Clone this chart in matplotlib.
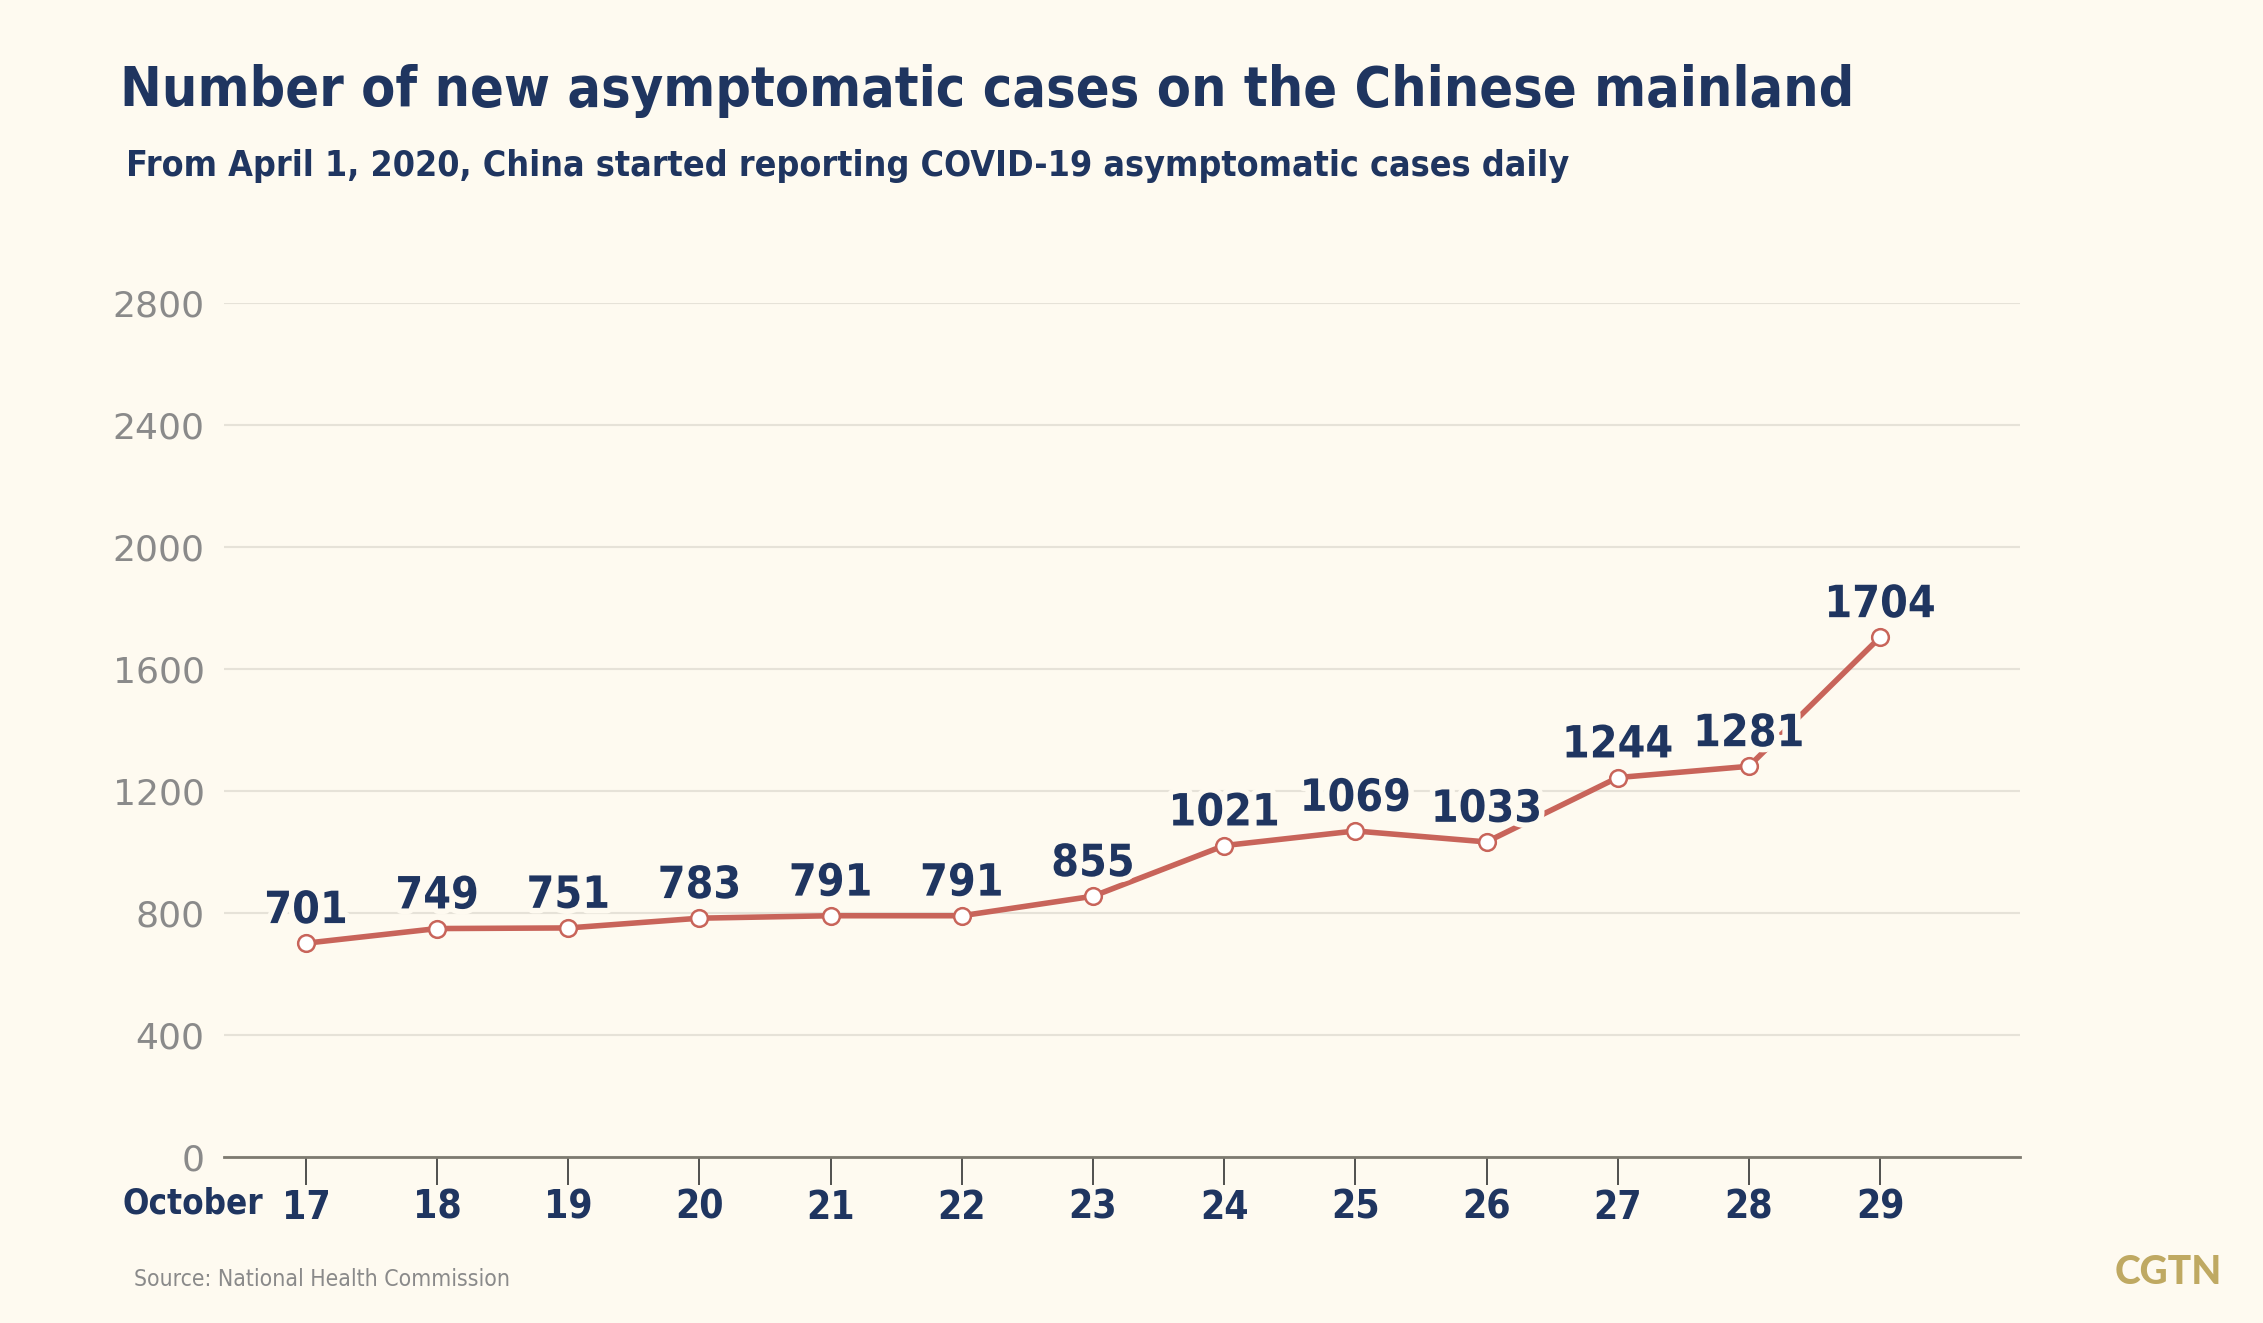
import matplotlib.pyplot as plt
import matplotlib.patheffects as pe

# DATA ------------------------------------------------------------------------
days = [17, 18, 19, 20, 21, 22, 23, 24, 25, 26, 27, 28, 29]
cases = [701, 749, 751, 783, 791, 791, 855, 1021, 1069, 1033, 1244, 1281, 1704]
yticks = [0, 400, 800, 1200, 1600, 2000, 2400, 2800]

title = "Number of new asymptomatic cases on the Chinese mainland"
subtitle = "From April 1, 2020, China started reporting COVID-19 asymptomatic cases daily"
source = "Source: National Health Commission"

BG = '#fefaf0'
NAVY = '#1f3560'
RED = '#c8645a'
GREY = '#8a8a8a'
GOLD = '#bfa962'
COND = dict(family='DejaVu Sans', stretch='condensed')

# FIGURE ----------------------------------------------------------------------
fig = plt.figure(figsize=(22.63, 13.23), dpi=100, facecolor=BG)
ax = fig.add_axes([224/2263, 1-1157/1323, (2020-224)/2263, (1157-303)/1323])
ax.set_facecolor(BG)

ax.plot(days, cases, color=RED, lw=4, marker='o', ms=12,
        mfc='white', mec=RED, mew=1.8, zorder=3)

for d, c in zip(days, cases):
    ax.annotate(str(c), (d, c), xytext=(0, 8), textcoords='offset points',
                ha='center', va='bottom', fontsize=32, fontweight='bold',
                color=NAVY, zorder=4, **COND,
                path_effects=[pe.withStroke(linewidth=8, foreground=BG)])

ax.set_xlim(16.375, 30.067)
ax.set_ylim(0, 2800)
ax.set_yticks(yticks)
ax.set_yticklabels([str(v) for v in yticks], color=GREY, fontsize=26)
ax.set_xticks(days)
ax.set_xticklabels([str(d) for d in days], color=NAVY, fontsize=28,
                   fontweight='bold', **COND)
ax.tick_params(axis='y', length=0, pad=14)
ax.tick_params(axis='x', length=20, width=1.2, color='#333333', pad=3)

ax.grid(axis='y', color='#e6e2d8', lw=1.5)
ax.set_axisbelow(True)
for s in ['top', 'right', 'left']:
    ax.spines[s].set_visible(False)
ax.spines['bottom'].set_color('#7d7a70')
ax.spines['bottom'].set_linewidth(2)

# TEXTS -----------------------------------------------------------------------
fig.text(120/2263, 1-106/1323, title, fontsize=40, fontweight='bold',
         color=NAVY, ha='left', va='baseline', **COND)
fig.text(126/2263, 1-176/1323, subtitle, fontsize=25.7, fontweight='bold',
         color=NAVY, ha='left', va='baseline', **COND)
fig.text(263/2263, 1-1213/1323, "October", fontsize=25, color=NAVY,
         fontweight='bold', ha='right', va='baseline', **COND)
fig.text(134/2263, 1-1286/1323, source, fontsize=16.5, color=GREY,
         ha='left', va='baseline', **COND)
fig.text(2222/2263, 1-1284/1323, "CGTN", fontsize=28, color=GOLD,
         fontweight='black', family='Lato', ha='right', va='baseline')

fig.savefig('out.png', dpi=100, facecolor=BG)
